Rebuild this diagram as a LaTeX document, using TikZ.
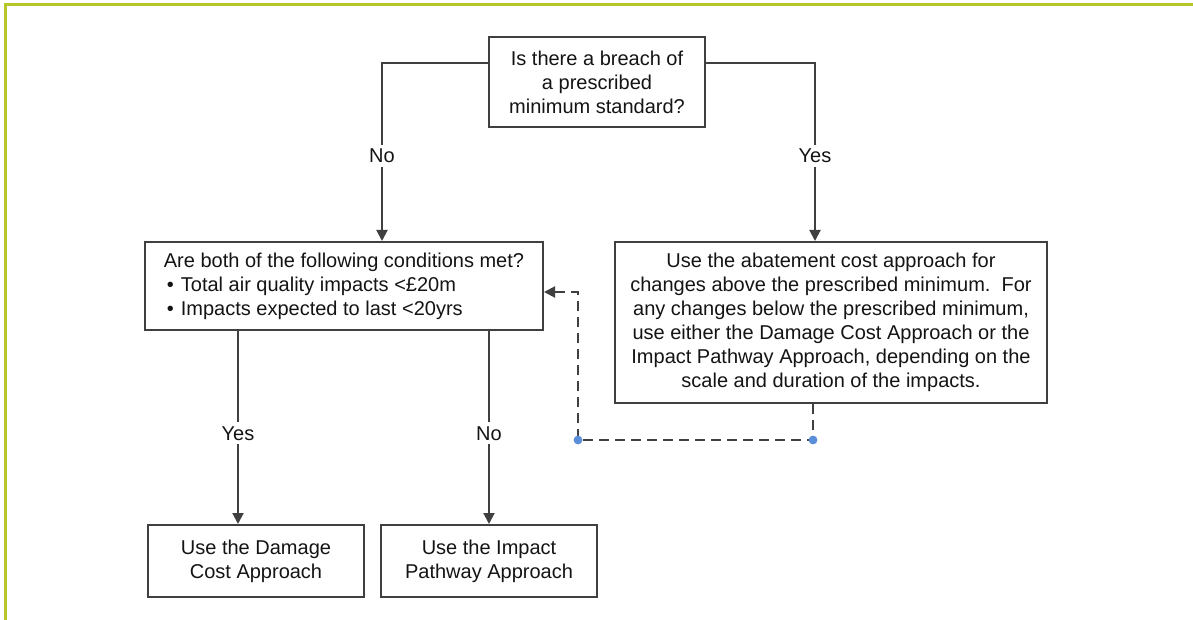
\documentclass[tikz,border=0pt]{standalone}
\usepackage{fontspec}
\setmainfont{Liberation Sans}
\usepackage{xcolor}
\usepackage{tikz}
\usetikzlibrary{arrows.meta,positioning}
\definecolor{framegreen}{HTML}{B7C72B}
\definecolor{linegray}{HTML}{404040}
\definecolor{textdark}{HTML}{141414}
\definecolor{dotblue}{HTML}{5B8ED8}

\begin{document}
\begin{tikzpicture}[x=0.5pt,y=-0.5pt,font=\fontsize{10}{12}\selectfont,text=textdark,
  box/.style={draw=linegray,line width=1pt,fill=white,align=center,inner sep=0pt},
  flow/.style={draw=linegray,line width=1pt,-{Triangle[length=5.5pt,width=5.5pt]}},
  answer/.style={fill=white,inner sep=2pt},
  feedback/.style={draw=linegray,line width=1pt,dash pattern=on 5pt off 3pt,-{Triangle[length=5.5pt,width=5.5pt]}}]
  \useasboundingbox (0,0) rectangle (1193,620);
  \draw[framegreen,line width=1.5pt] (5,620) -- (5,5) -- (1193,5);

  \node[box,minimum width=108pt,minimum height=45pt] (breach) at (597,82)
    {Is there a breach of\\a prescribed\\minimum standard?};
  \node[box,minimum width=199pt,minimum height=44pt,align=left] (cond) at (344,286)
    {Are both of the following conditions met?\\
     \hspace*{1.5pt}\textbullet\hspace{3.5pt}Total air quality impacts <£20m\\
     \hspace*{1.5pt}\textbullet\hspace{3.5pt}Impacts expected to last <20yrs};
  \node[box,minimum width=216pt,minimum height=80.5pt] (abate) at (831,322.5)
    {Use the abatement cost approach for\\
     changes above the prescribed minimum.\ \ For\\
     any changes below the prescribed minimum,\\
     use either the Damage Cost Approach or the\\
     Impact Pathway Approach, depending on the\\
     scale and duration of the impacts.};
  \node[box,minimum width=108pt,minimum height=36pt] (damage) at (256,561)
    {Use the Damage\\Cost Approach};
  \node[box,minimum width=108pt,minimum height=36pt] (pathway) at (489,561)
    {Use the Impact\\Pathway Approach};

  \draw[flow] ([yshift=9.5pt]breach.west) -| ([xshift=19pt]cond.north)
    node[answer,pos=0.76] {No};
  \draw[flow] ([yshift=9.5pt]breach.east) -| ([xshift=-8pt]abate.north)
    node[answer,pos=0.76] {Yes};
  \draw[flow] ([xshift=-53pt]cond.south) -- ([xshift=-53pt]cond.south |- damage.north)
    node[answer,pos=0.53] {Yes};
  \draw[flow] ([xshift=72.5pt]cond.south) -- (pathway.north)
    node[answer,pos=0.53] {No};

  \coordinate (turnR) at (813,440);
  \coordinate (turnL) at (578,440);
  \draw[feedback] ([xshift=-9pt]abate.south) -- (turnR) -- (turnL) |- ([yshift=-3pt]cond.east);
  \fill[dotblue] (turnR) circle (2.2pt);
  \fill[dotblue] (turnL) circle (2.2pt);
\end{tikzpicture}
\end{document}
